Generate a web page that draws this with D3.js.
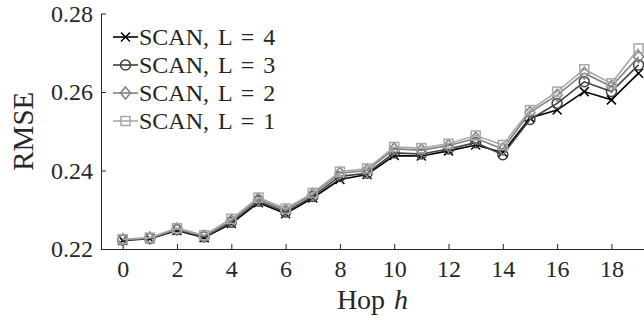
<!DOCTYPE html>
<html>
<head>
<meta charset="utf-8">
<script src="https://cdn.jsdelivr.net/npm/d3@7"></script>
<style>
  html, body { margin: 0; padding: 0; background: #fff; }
  svg { display: block; }
  text { font-family: "Liberation Serif", "DejaVu Serif", serif; fill: #262626; }
</style>
</head>
<body>
<svg id="chart" width="644" height="329"></svg>
<script>
// Hop index on the x axis
const hops = [0, 1, 2, 3, 4, 5, 6, 7, 8, 9, 10, 11, 12, 13, 14, 15, 16, 17, 18, 19];

// RMSE per hop for each number of layers L
const rmseL4 = [0.2222, 0.2226, 0.2247, 0.2229, 0.2265, 0.2318, 0.2290, 0.2330, 0.2377, 0.2390,
                0.2438, 0.2437, 0.2450, 0.2465, 0.2446, 0.2534, 0.2554, 0.2601, 0.2580, 0.2648];
const rmseL3 = [0.2223, 0.2227, 0.2249, 0.2231, 0.2268, 0.2322, 0.2294, 0.2334, 0.2385, 0.2393,
                0.2445, 0.2442, 0.2455, 0.2471, 0.2440, 0.2530, 0.2571, 0.2626, 0.2601, 0.2669];
const rmseL2 = [0.2224, 0.2228, 0.2251, 0.2233, 0.2272, 0.2327, 0.2299, 0.2339, 0.2393, 0.2400,
                0.2455, 0.2452, 0.2463, 0.2482, 0.2455, 0.2548, 0.2592, 0.2648, 0.2614, 0.2690];
const rmseL1 = [0.2225, 0.2229, 0.2253, 0.2235, 0.2277, 0.2331, 0.2303, 0.2343, 0.2397, 0.2405,
                0.2460, 0.2457, 0.2468, 0.2489, 0.2465, 0.2554, 0.2601, 0.2658, 0.2622, 0.2711];

const seriesNames = ["SCAN, L = 4", "SCAN, L = 3", "SCAN, L = 2", "SCAN, L = 1"];
const xTicks = [0, 2, 4, 6, 8, 10, 12, 14, 16, 18];
const yTicks = [0.22, 0.24, 0.26, 0.28];

const series = [
  { name: seriesNames[0], values: rmseL4, color: "#000000", marker: "x" },
  { name: seriesNames[1], values: rmseL3, color: "#404040", marker: "circle" },
  { name: seriesNames[2], values: rmseL2, color: "#808080", marker: "diamond" },
  { name: seriesNames[3], values: rmseL1, color: "#a8a8a8", marker: "square" }
];

const svg = d3.select("#chart");
const axisColor = "#262626";

const x = d3.scaleLinear().domain([-0.8, 19.2]).range([101, 644]);
const y = d3.scaleLinear().domain([0.22, 0.28]).range([249, 13.5]);

// axes: left and bottom only, ticks pointing inward
const xAxis = d3.axisBottom(x).tickValues(xTicks).tickSizeInner(-5).tickSizeOuter(0)
  .tickPadding(11).tickFormat(d3.format("d"));
const gx = svg.append("g").attr("transform", `translate(0,${y.range()[0]})`).call(xAxis);
gx.select(".domain").attr("stroke", axisColor).attr("stroke-width", 1);
gx.selectAll(".tick line").attr("stroke", axisColor);
gx.selectAll(".tick text").attr("font-size", 24).attr("fill", axisColor)
  .attr("font-family", "Liberation Serif");

const yAxis = d3.axisLeft(y).tickValues(yTicks).tickSizeInner(-5).tickSizeOuter(0)
  .tickPadding(8).tickFormat(d3.format(".2f"));
const gy = svg.append("g").attr("transform", `translate(${x.range()[0]},0)`).call(yAxis);
gy.select(".domain").attr("stroke", axisColor).attr("stroke-width", 1);
gy.selectAll(".tick line").attr("stroke", axisColor);
gy.selectAll(".tick text").attr("font-size", 24).attr("fill", axisColor)
  .attr("font-family", "Liberation Serif");

// axis titles
svg.append("text")
  .attr("x", (x.range()[0] + x.range()[1]) / 2).attr("y", 309)
  .attr("text-anchor", "middle").attr("font-size", 28).attr("word-spacing", 2)
  .html('Hop <tspan font-style="italic">h</tspan>');

svg.append("text")
  .attr("transform", `translate(33,${(y.range()[0] + y.range()[1]) / 2}) rotate(-90)`)
  .attr("text-anchor", "middle").attr("font-size", 29)
  .text("RMSE");

// marker shapes drawn at (0,0)
function drawMarker(g, type, color) {
  const s = 4.5;
  if (type === "x") {
    g.append("path").attr("d", `M${-s},${-s}L${s},${s}M${-s},${s}L${s},${-s}`)
      .attr("stroke", color).attr("stroke-width", 1.5).attr("fill", "none");
  } else if (type === "circle") {
    g.append("circle").attr("r", 5).attr("stroke", color).attr("stroke-width", 1.5).attr("fill", "none");
  } else if (type === "diamond") {
    g.append("path").attr("d", "M0,-6L5,0L0,6L-5,0Z")
      .attr("stroke", color).attr("stroke-width", 1.5).attr("fill", "none");
  } else if (type === "square") {
    g.append("rect").attr("x", -4.5).attr("y", -4.5).attr("width", 9).attr("height", 9)
      .attr("stroke", color).attr("stroke-width", 1.5).attr("fill", "none");
  }
}

const line = d3.line().x((d, i) => x(hops[i])).y(d => y(d));

series.forEach(s => {
  const g = svg.append("g");
  g.append("path").datum(s.values).attr("d", line)
    .attr("fill", "none").attr("stroke", s.color).attr("stroke-width", 1.6);
  s.values.forEach((v, i) => {
    const m = g.append("g").attr("transform", `translate(${x(hops[i])},${y(v)})`);
    drawMarker(m, s.marker, s.color);
  });
});

// legend
const legend = svg.append("g");
series.forEach((s, i) => {
  const yy = 37 + i * 28;
  const row = legend.append("g").attr("transform", `translate(0,${yy})`);
  row.append("line").attr("x1", 113).attr("x2", 138).attr("y1", 0).attr("y2", 0)
    .attr("stroke", s.color).attr("stroke-width", 1.6);
  const m = row.append("g").attr("transform", "translate(125.5,0)");
  drawMarker(m, s.marker, s.color);
  row.append("text").attr("x", 139).attr("y", 0).attr("dy", "0.35em")
    .attr("font-size", 24).attr("word-spacing", 3).text(s.name);
});
</script>
</body>
</html>
